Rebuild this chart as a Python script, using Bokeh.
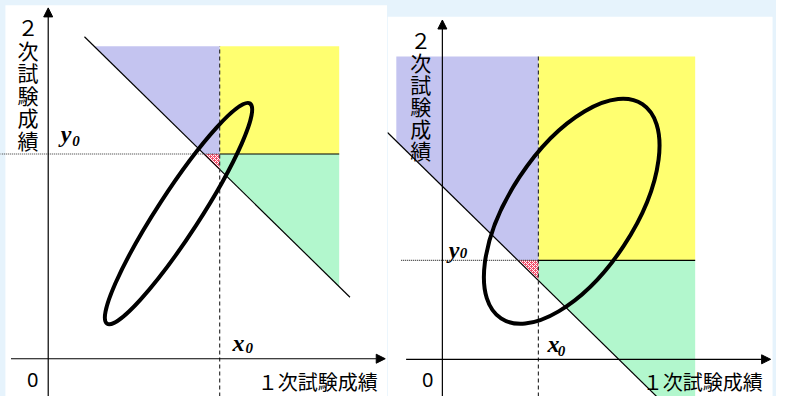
from bokeh.plotting import figure
from bokeh.layouts import row
from bokeh.models import Range1d, Arrow, NormalHead, Label
from bokeh.core.properties import value
from bokeh.embed import file_html
from bokeh.resources import INLINE

# ---- data (score units, origin = axes origin) ----
panels = ["left", "right"]
cut_x0 = [175, 98]          # 1st exam cut-off x0
cut_y0 = [213, 103]         # 2nd exam cut-off y0
total_cut = [372, 180]      # x + y >= total_cut line
region_top = [325, 315]
region_right = [297, 258]
region_left = [-49, -47]
region_bottom = [-40, -40]
ellipse_cx = [133, 132]
ellipse_cy = [151, 154]
ellipse_a = [134, 131]
ellipse_b = [22, 65]
ellipse_angle = [57, 56.6]
x_axis_label = "１次試験成績"
y_axis_label = "２次試験成績"
origin_label = "0"

# frame / layout (screen setup)
x_ranges = [(-48.7, 346.3), (-56, 341)]
y_ranges = [(-39.3, 372.7), (-38.7, 373.3)]
widths = [387, 389]
panel_box = [(-43.7, 346.3, -39.3, 367.7), (-56, 337, -38.7, 356.3)]
axis_x_end = [344, 335]
axis_y_end = [365, 353]
axis_x_start = [-38, -37]
diag_x = [(37, 308), (-56, 240)]
dotted_start = [-49, -42]
ylab_pos = [(-20.7, 346.7, 23.4), (-22, 334.3, 23.0)]
xlab_pos = [(336.3, -21.5), (327, -21.0)]
zero_pos = [(-15.7, -22.3), (-15, -21.7)]
y0_pos = [(18.3, 233.7, 28.3, 226.7), (12, 113.3, 21.5, 110.8)]
x0_pos = [(194.3, 16.7, 205.3, 10.7), (113.5, 15.8, 121.5, 8.3)]
CJK_BASE_SHIFT = 2.0   # centre-to-baseline shift of CJK glyphs (data units)

BG = "#e6f3fc"
BLUE = "#c4c4f0"
YELLOW = "#ffff70"
GREEN = "#b2f7cd"
RED = "#f2506c"
CJK = value("Noto Sans CJK JP")
SERIF = value("Liberation Serif")

figs = []
for i in range(2):
    p = figure(width=widths[i], height=396, output_backend="svg", toolbar_location=None,
               x_range=Range1d(*x_ranges[i]), y_range=Range1d(*y_ranges[i]),
               min_border=0, background_fill_color=BG, border_fill_color=BG)
    p.axis.visible = False
    p.grid.visible = False
    p.outline_line_color = None

    L, R, B, T = panel_box[i]
    p.quad(left=[L], right=[R], bottom=[B], top=[T], fill_color="white", line_color=None)

    x0, y0, c = cut_x0[i], cut_y0[i], total_cut[i]
    top, right, left, bottom = region_top[i], region_right[i], region_left[i], region_bottom[i]

    # yellow: passed both cut-offs
    p.quad(left=[x0], right=[right], bottom=[y0], top=[top], fill_color=YELLOW, line_color=None)
    # blue: x < x0, y >= y0, x + y >= c
    bx = [max(left, c - top), x0, x0, c - y0]
    by = [top, top, y0, y0]
    if left > c - top:
        bx.append(left)
        by.append(c - left)
    p.patch(bx, by, fill_color=BLUE, line_color=None)
    # green: x >= x0, y < y0, x + y >= c
    gx = [x0, right, right, x0]
    gy = [y0, y0, c - right, c - x0]
    p.patch(gx, gy, fill_color=GREEN, line_color=None)
    # red: x < x0, y < y0, x + y >= c
    p.patch([c - y0, x0, x0], [y0, y0, c - x0], fill_color=RED, line_color=None,
            hatch_pattern="diagonal_cross", hatch_color="white", hatch_scale=4, hatch_weight=1)

    # total score line and cut-off lines
    dx = list(diag_x[i])
    p.line(dx, [c - v for v in dx], line_color="black", line_width=1.2)
    p.line([x0, x0], [y_ranges[i][0], top], line_color="#333333", line_width=1.2, line_dash="4 3")
    p.line([dotted_start[i], x0], [y0, y0], line_color="#333333", line_width=1.2, line_dash="1 1")
    p.line([x0, right], [y0, y0], line_color="black", line_width=1.2)

    # distribution ellipse
    p.ellipse(x=[ellipse_cx[i]], y=[ellipse_cy[i]], width=[2 * ellipse_a[i]], height=[2 * ellipse_b[i]],
              angle=ellipse_angle[i], angle_units="deg", fill_color=None, line_color="black", line_width=4)

    # axes with arrow heads
    p.add_layout(Arrow(end=NormalHead(size=9, fill_color="black", line_color="black"),
                       x_start=axis_x_start[i], y_start=0, x_end=axis_x_end[i], y_end=0,
                       line_color="black", line_width=1.2))
    p.add_layout(Arrow(end=NormalHead(size=9, fill_color="black", line_color="black"),
                       x_start=0, y_start=y_ranges[i][0], x_end=0, y_end=axis_y_end[i],
                       line_color="black", line_width=1.2))

    # texts
    yx, ystart, ystep = ylab_pos[i]
    for k, ch in enumerate(y_axis_label):
        p.text(x=[yx], y=[ystart - k * ystep - CJK_BASE_SHIFT], text=[ch],
               text_font=CJK, text_font_size="21px", text_align="center", text_baseline="alphabetic",
               text_color="black")
    p.add_layout(Label(x=xlab_pos[i][0], y=xlab_pos[i][1] - CJK_BASE_SHIFT, text=x_axis_label,
                       text_font="Noto Sans CJK JP", text_font_size="20px", text_align="right",
                       text_baseline="alphabetic", text_color="black"))
    p.text(x=[zero_pos[i][0]], y=[zero_pos[i][1]], text=[origin_label], text_font=value("Noto Sans"),
           text_font_size="20px", text_align="center", text_baseline="middle", text_color="black")
    for pos, letter in ((y0_pos[i], "y"), (x0_pos[i], "x")):
        p.text(x=[pos[0]], y=[pos[1]], text=[letter], text_font=SERIF, text_font_style="bold italic",
               text_font_size="24px", text_align="center", text_baseline="middle", text_color="black")
        p.text(x=[pos[2]], y=[pos[3]], text=["0"], text_font=SERIF, text_font_style="bold italic",
               text_font_size="15px", text_align="center", text_baseline="middle", text_color="black")
    figs.append(p)

layout = row(*figs, spacing=0)
layout.background = BG
open("out.html", "w").write(file_html(layout, INLINE))
